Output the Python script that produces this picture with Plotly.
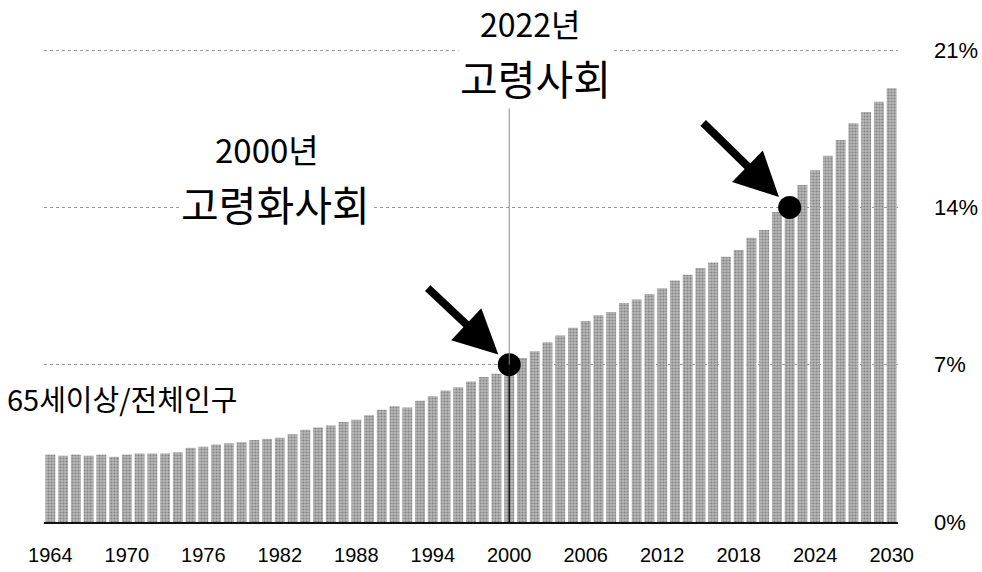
import plotly.graph_objects as go

years = list(range(1964, 2031))
share = [3.0, 2.95, 3.0, 2.95, 3.0, 2.9, 3.0, 3.05, 3.05, 3.05,
         3.1, 3.3, 3.35, 3.45, 3.5, 3.55, 3.65, 3.7, 3.75, 3.9,
         4.1, 4.2, 4.3, 4.45, 4.55, 4.75, 5.0, 5.15, 5.1, 5.4,
         5.6, 5.85, 6.0, 6.25, 6.45, 6.6, 6.9, 7.3, 7.6, 8.0,
         8.3, 8.65, 8.95, 9.2, 9.35, 9.75, 9.9, 10.15, 10.4, 10.75,
         11.0, 11.3, 11.55, 11.8, 12.1, 12.65, 13.0, 13.8, 14.0, 15.0,
         15.65, 16.3, 17.0, 17.75, 18.25, 18.7, 19.3]
x_ticks = [1964, 1970, 1976, 1982, 1988, 1994, 2000, 2006, 2012, 2018, 2024, 2030]
y_ticks = [0, 7, 14, 21]
y_labels = ["0%", "7%", "14%", "21%"]
milestone_years = [2000, 2022]
milestone_share = [7, 14]
milestone_year_text = ["2000년", "2022년"]
milestone_name = ["고령화사회", "고령사회"]
axis_caption = "65세이상/전체인구"

LAT = "Liberation Sans, Arial, sans-serif"
KR = "Noto Sans CJK KR, sans-serif"

fig = go.Figure()
fig.add_trace(go.Bar(
    x=years, y=share, width=0.78,
    marker=dict(color="#b0b0b0", line=dict(width=0),
                pattern=dict(shape=".", fgcolor="#4f4f4f", bgcolor="#b8b8b8",
                             size=3, solidity=0.4)),
    hoverinfo="x+y", showlegend=False,
))

# vertical guide at 2000
fig.add_shape(type="line", x0=milestone_years[0], x1=milestone_years[0],
              y0=milestone_share[0], y1=18.6, line=dict(color="#8a8a8a", width=1))
fig.add_shape(type="line", x0=milestone_years[0], x1=milestone_years[0],
              y0=0, y1=milestone_share[0], line=dict(color="#111", width=1.5))

fig.add_trace(go.Scatter(
    x=milestone_years, y=milestone_share, mode="markers",
    marker=dict(color="black", size=23), showlegend=False, hoverinfo="skip",
))

# arrows
arrow_offsets = [(-83, -78), (-88, -86)]
for yr, v, (ax, ay) in zip(milestone_years, milestone_share, arrow_offsets):
    fig.add_annotation(x=yr, y=v, xref="x", yref="y", ax=ax, ay=ay,
                       axref="pixel", ayref="pixel", text="", showarrow=True,
                       arrowhead=2, arrowsize=1.1, arrowwidth=8, arrowcolor="black",
                       standoff=15)

# texts: (x paper year, y paper year, x paper name, y paper name, year size, name size)
text_pos = [
    (0.2611, 0.7739, 0.2705, 0.6618, 33, 41),
    (0.5691, 1.0353, 0.5760, 0.9232, 32, 41),
]
for (xp1, y1, xp2, y2, s1, s2), t1, t2 in zip(text_pos, milestone_year_text, milestone_name):
    fig.add_annotation(x=xp1, y=y1, xref="paper", yref="paper", text=t1,
                       showarrow=False, font=dict(family=KR, size=s1, color="black"),
                       xanchor="center", yanchor="middle")
    fig.add_annotation(x=xp2, y=y2, xref="paper", yref="paper", text=t2,
                       showarrow=False, font=dict(family=KR, size=s2, color="black"),
                       bgcolor="white", xanchor="center", yanchor="middle")

fig.add_annotation(x=-0.0457, y=0.257, xref="paper", yref="paper", text=axis_caption,
                   showarrow=False, font=dict(family=KR, size=29, color="black"),
                   xanchor="left", yanchor="middle")

fig.update_layout(
    width=982, height=572,
    margin=dict(l=44, r=84, t=40, b=50),
    paper_bgcolor="white", plot_bgcolor="white",
    xaxis=dict(range=[1963.5, 2030.5], tickvals=x_ticks, ticks="",
               ticklabelstandoff=14, showgrid=False, zeroline=False,
               showline=True, linecolor="#111", linewidth=2, automargin=False,
               tickfont=dict(family=LAT, size=20, color="black")),
    yaxis=dict(range=[0, 21.45], side="right", tickvals=y_ticks, ticktext=y_labels,
               ticks="", ticklabelstandoff=35, showgrid=True, gridcolor="#9a9a9a",
               griddash="dot", gridwidth=1, zeroline=False, showline=False,
               automargin=False,
               tickfont=dict(family=LAT, size=22, color="black")),
)

fig.write_html("out.html")
